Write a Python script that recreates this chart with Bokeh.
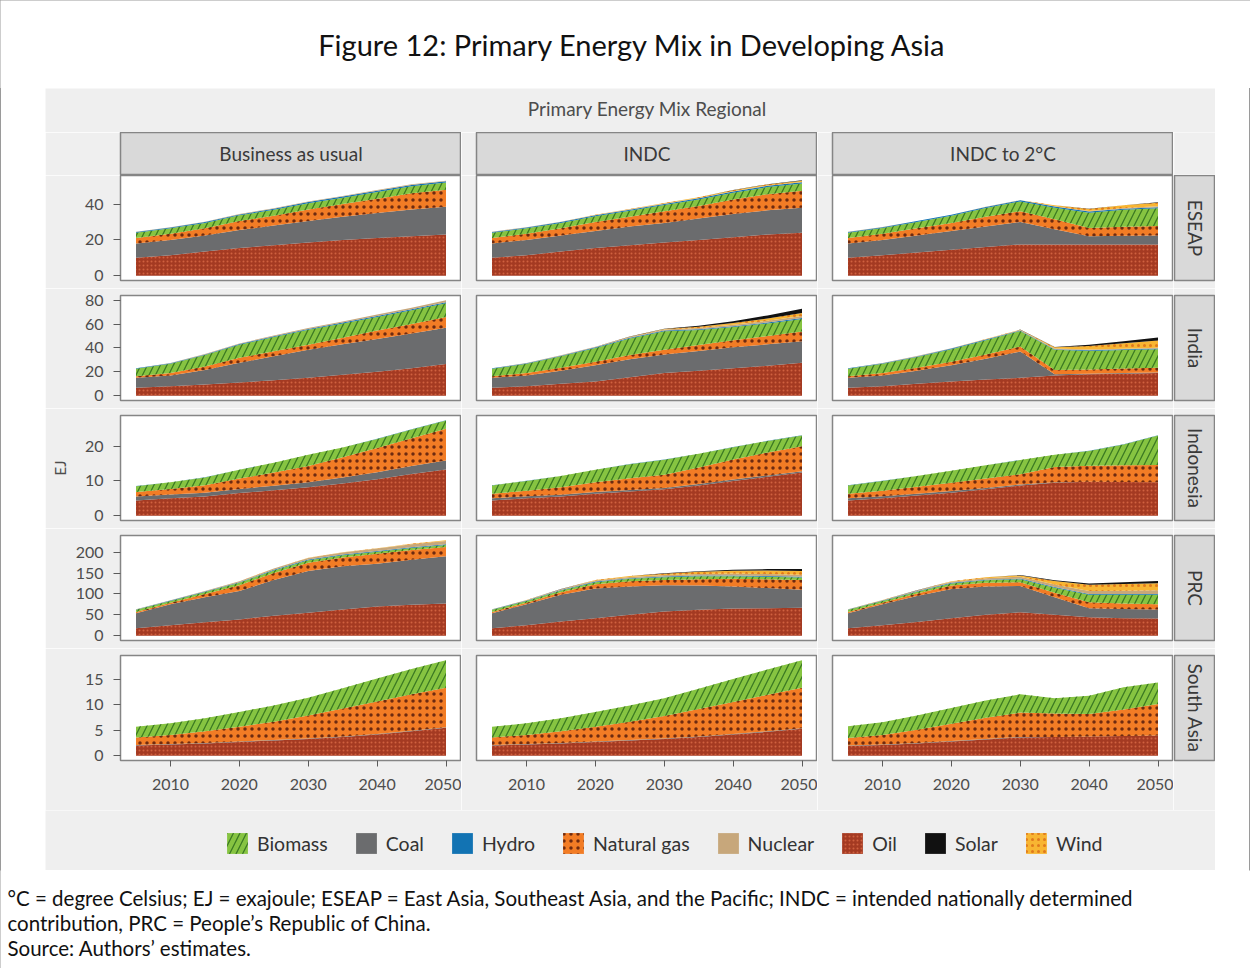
import math
import numpy as np
from bokeh.plotting import figure
from bokeh.models import Range1d, FixedTicker, Label, Legend, LegendItem, Spacer
from bokeh.layouts import row, column
from bokeh.embed import file_html
from bokeh.resources import INLINE

# ---------------- data ----------------
years = [2005, 2010, 2015, 2020, 2025, 2030, 2035, 2040, 2045, 2050]
energies = ["Biomass", "Coal", "Hydro", "Natural gas", "Nuclear", "Oil", "Solar", "Wind"]
stack_order = ["Oil", "Coal", "Natural gas", "Biomass", "Hydro", "Nuclear", "Wind", "Solar"]
scenarios = ["Business as usual", "INDC", "INDC to 2°C"]
regions = ["ESEAP", "India", "Indonesia", "PRC", "South Asia"]

x_ticks = [2010, 2020, 2030, 2040, 2050]
y_ticks = {
    "ESEAP": [0, 20, 40],
    "India": [0, 20, 40, 60, 80],
    "Indonesia": [0, 10, 20],
    "PRC": [0, 50, 100, 150, 200],
    "South Asia": [0, 5, 10, 15],
}

eseap_bau = {
    "Oil":         [10.0, 11.5, 13.5, 15.5, 17.0, 18.5, 20.0, 21.0, 22.0, 23.0],
    "Coal":        [8.0, 8.5, 9.0, 10.0, 11.0, 12.0, 13.0, 14.0, 15.0, 15.5],
    "Natural gas": [3.0, 3.5, 4.0, 5.0, 5.5, 6.5, 7.0, 8.0, 9.0, 9.5],
    "Biomass":     [3.0, 3.0, 3.0, 3.2, 3.3, 3.5, 3.6, 3.8, 4.0, 4.0],
    "Hydro":       [0.4, 0.4, 0.5, 0.5, 0.6, 0.6, 0.6, 0.7, 0.7, 0.7],
    "Nuclear":     [0.2, 0.2, 0.2, 0.3, 0.3, 0.3, 0.3, 0.4, 0.4, 0.4],
    "Wind":        [0.0, 0.0, 0.0, 0.0, 0.0, 0.0, 0.0, 0.0, 0.0, 0.0],
    "Solar":       [0.0, 0.0, 0.0, 0.0, 0.0, 0.0, 0.0, 0.0, 0.0, 0.0],
}
eseap_indc = {
    "Oil":         [10.0, 11.5, 13.5, 15.5, 17.0, 18.5, 20.0, 21.5, 23.0, 24.0],
    "Coal":        [8.0, 8.5, 9.0, 9.5, 10.5, 11.0, 12.0, 13.0, 13.5, 14.0],
    "Natural gas": [3.0, 3.5, 4.0, 5.0, 5.5, 6.5, 7.0, 8.0, 9.0, 9.5],
    "Biomass":     [3.0, 3.0, 3.0, 3.2, 3.3, 3.5, 3.6, 3.8, 4.0, 4.0],
    "Hydro":       [0.4, 0.4, 0.5, 0.5, 0.6, 0.6, 0.6, 0.7, 0.7, 0.7],
    "Nuclear":     [0.2, 0.2, 0.2, 0.2, 0.2, 0.2, 0.2, 0.2, 0.2, 0.2],
    "Wind":        [0.0, 0.0, 0.0, 0.1, 0.2, 0.3, 0.4, 0.5, 0.6, 0.7],
    "Solar":       [0.0, 0.0, 0.0, 0.0, 0.0, 0.0, 0.0, 0.1, 0.1, 0.2],
}
eseap_2c = {
    "Oil":         [10.0, 11.5, 13.0, 14.5, 16.0, 17.5, 17.5, 17.5, 17.5, 17.5],
    "Coal":        [8.0, 8.5, 9.5, 10.5, 11.5, 12.5, 8.5, 4.6, 4.8, 5.0],
    "Natural gas": [3.0, 3.5, 4.0, 4.5, 5.5, 6.0, 5.5, 4.6, 5.0, 5.2],
    "Biomass":     [3.0, 3.2, 3.5, 4.0, 4.8, 5.5, 6.5, 8.5, 9.5, 10.0],
    "Hydro":       [0.4, 0.4, 0.5, 0.5, 0.6, 0.6, 0.6, 0.6, 0.6, 0.6],
    "Nuclear":     [0.1, 0.1, 0.1, 0.1, 0.1, 0.1, 0.2, 0.3, 0.4, 0.5],
    "Wind":        [0.0, 0.0, 0.0, 0.0, 0.0, 0.0, 0.5, 1.2, 1.5, 2.0],
    "Solar":       [0.0, 0.0, 0.0, 0.0, 0.0, 0.0, 0.0, 0.1, 0.1, 0.2],
}

india_bau = {
    "Oil":         [6.7, 8.0, 9.5, 11.0, 13.0, 15.0, 17.5, 20.0, 23.0, 26.5],
    "Coal":        [8.3, 9.0, 12.0, 16.5, 20.0, 23.5, 25.5, 27.5, 29.0, 30.5],
    "Natural gas": [1.4, 2.0, 3.0, 4.2, 4.2, 4.2, 5.5, 7.0, 8.0, 9.0],
    "Biomass":     [6.1, 7.7, 9.5, 11.0, 12.0, 12.5, 12.0, 11.5, 11.5, 11.5],
    "Hydro":       [0.4, 0.4, 0.5, 0.5, 0.6, 0.6, 0.7, 0.7, 0.8, 0.8],
    "Nuclear":     [0.2, 0.3, 0.4, 0.5, 0.6, 0.8, 1.0, 1.2, 1.4, 1.6],
    "Wind":        [0.0, 0.0, 0.0, 0.0, 0.0, 0.0, 0.0, 0.0, 0.0, 0.0],
    "Solar":       [0.0, 0.0, 0.0, 0.0, 0.0, 0.0, 0.0, 0.0, 0.0, 0.0],
}
india_indc = {
    "Oil":         [6.7, 8.0, 10.0, 12.0, 15.5, 19.0, 21.0, 23.0, 25.0, 27.5],
    "Coal":        [8.3, 9.0, 11.0, 13.5, 15.0, 15.5, 16.5, 17.5, 18.0, 18.0],
    "Natural gas": [1.4, 2.0, 2.5, 3.0, 3.5, 4.0, 5.0, 6.0, 7.0, 8.3],
    "Biomass":     [6.1, 7.7, 9.5, 11.5, 14.0, 15.5, 12.5, 11.0, 10.5, 10.5],
    "Hydro":       [0.4, 0.4, 0.5, 0.5, 0.6, 0.6, 0.7, 0.7, 0.8, 0.8],
    "Nuclear":     [0.2, 0.3, 0.4, 0.5, 0.6, 0.8, 1.0, 1.2, 1.4, 1.6],
    "Wind":        [0.0, 0.0, 0.0, 0.1, 0.2, 0.4, 1.0, 1.5, 2.0, 2.5],
    "Solar":       [0.0, 0.0, 0.0, 0.0, 0.1, 0.2, 0.8, 1.5, 2.5, 3.5],
}
india_2c = {
    "Oil":         [6.7, 8.0, 10.0, 12.0, 13.5, 15.0, 17.0, 18.0, 18.5, 19.0],
    "Coal":        [8.3, 9.0, 11.0, 13.5, 17.5, 22.0, 1.0, 0.5, 0.5, 0.5],
    "Natural gas": [1.4, 2.0, 2.5, 3.0, 3.5, 4.2, 3.5, 3.5, 3.8, 4.0],
    "Biomass":     [6.1, 7.7, 9.0, 10.5, 12.0, 13.0, 17.0, 15.5, 15.5, 15.5],
    "Hydro":       [0.4, 0.4, 0.4, 0.5, 0.5, 0.5, 0.5, 0.5, 0.5, 0.5],
    "Nuclear":     [0.2, 0.2, 0.3, 0.3, 0.3, 0.4, 0.5, 0.6, 0.6, 0.7],
    "Wind":        [0.0, 0.0, 0.0, 0.0, 0.1, 0.2, 1.0, 3.0, 4.5, 6.0],
    "Solar":       [0.0, 0.0, 0.0, 0.0, 0.0, 0.1, 0.3, 1.0, 1.8, 2.5],
}

indonesia_bau = {
    "Oil":         [4.4, 5.0, 5.5, 6.5, 7.3, 8.2, 9.3, 10.5, 12.0, 13.3],
    "Coal":        [1.1, 1.1, 1.1, 1.2, 1.3, 1.4, 1.7, 2.0, 2.3, 2.6],
    "Natural gas": [1.3, 1.6, 2.2, 3.0, 3.8, 4.7, 5.8, 7.0, 8.0, 9.1],
    "Biomass":     [1.7, 1.9, 2.2, 2.5, 2.8, 3.2, 2.8, 2.6, 2.5, 2.4],
    "Hydro":       [0.05, 0.05, 0.05, 0.05, 0.05, 0.05, 0.05, 0.05, 0.05, 0.05],
    "Nuclear":     [0.0, 0.0, 0.0, 0.0, 0.0, 0.0, 0.0, 0.0, 0.0, 0.0],
    "Wind":        [0.0, 0.0, 0.0, 0.0, 0.0, 0.0, 0.0, 0.0, 0.0, 0.0],
    "Solar":       [0.0, 0.0, 0.0, 0.0, 0.0, 0.0, 0.0, 0.0, 0.0, 0.0],
}
indonesia_indc = {
    "Oil":         [4.4, 5.0, 5.5, 6.3, 7.0, 7.6, 8.7, 10.0, 11.2, 12.4],
    "Coal":        [0.6, 0.6, 0.5, 0.5, 0.4, 0.4, 0.4, 0.4, 0.4, 0.4],
    "Natural gas": [1.3, 1.6, 2.2, 2.8, 3.4, 3.8, 4.8, 5.8, 6.6, 7.2],
    "Biomass":     [2.4, 2.8, 3.2, 3.6, 4.0, 4.3, 3.9, 3.5, 3.3, 3.1],
    "Hydro":       [0.05, 0.05, 0.05, 0.05, 0.05, 0.05, 0.05, 0.05, 0.05, 0.05],
    "Nuclear":     [0.0, 0.0, 0.0, 0.0, 0.0, 0.0, 0.0, 0.0, 0.0, 0.0],
    "Wind":        [0.0, 0.0, 0.0, 0.0, 0.0, 0.0, 0.0, 0.0, 0.0, 0.0],
    "Solar":       [0.0, 0.0, 0.0, 0.0, 0.0, 0.0, 0.0, 0.0, 0.0, 0.0],
}
indonesia_2c = {
    "Oil":         [4.4, 5.0, 5.8, 6.6, 7.6, 8.7, 9.5, 9.8, 9.7, 9.6],
    "Coal":        [0.6, 0.6, 0.5, 0.5, 0.4, 0.3, 0.1, 0.0, 0.0, 0.0],
    "Natural gas": [1.3, 1.6, 2.0, 2.4, 2.7, 2.9, 4.4, 4.6, 4.8, 5.0],
    "Biomass":     [2.4, 2.8, 3.1, 3.4, 3.8, 4.1, 3.5, 4.2, 6.0, 8.5],
    "Hydro":       [0.05, 0.05, 0.05, 0.05, 0.05, 0.05, 0.05, 0.05, 0.05, 0.05],
    "Nuclear":     [0.0, 0.0, 0.0, 0.0, 0.0, 0.0, 0.0, 0.0, 0.0, 0.0],
    "Wind":        [0.0, 0.0, 0.0, 0.0, 0.0, 0.0, 0.0, 0.0, 0.0, 0.0],
    "Solar":       [0.0, 0.0, 0.0, 0.0, 0.0, 0.0, 0.0, 0.0, 0.0, 0.0],
}

prc_bau = {
    "Oil":         [18.0, 25.0, 32.0, 39.0, 48.0, 55.0, 63.0, 70.0, 74.0, 77.0],
    "Coal":        [36.0, 50.0, 60.0, 68.0, 85.0, 100.0, 103.0, 102.0, 108.0, 113.0],
    "Natural gas": [3.0, 4.0, 8.0, 14.0, 17.0, 19.5, 21.0, 24.0, 23.0, 22.0],
    "Biomass":     [5.0, 4.0, 4.5, 5.5, 6.0, 6.0, 5.5, 5.0, 5.0, 5.0],
    "Hydro":       [1.0, 1.2, 1.4, 1.5, 1.6, 1.7, 1.8, 1.8, 1.8, 1.8],
    "Nuclear":     [0.5, 0.8, 1.2, 2.0, 3.0, 4.0, 5.0, 6.0, 7.0, 8.0],
    "Wind":        [0.0, 0.0, 0.1, 0.2, 0.3, 0.4, 0.5, 0.7, 1.0, 1.5],
    "Solar":       [0.0, 0.0, 0.0, 0.0, 0.0, 0.0, 0.0, 0.0, 0.0, 0.0],
}
prc_indc = {
    "Oil":         [18.0, 25.0, 34.0, 42.0, 50.0, 58.0, 62.0, 65.0, 66.0, 67.0],
    "Coal":        [36.0, 50.0, 64.0, 71.0, 68.0, 63.0, 58.0, 53.0, 48.0, 43.0],
    "Natural gas": [3.0, 4.0, 6.0, 10.0, 12.0, 12.0, 15.0, 18.0, 21.0, 23.0],
    "Biomass":     [5.0, 4.0, 4.0, 5.0, 6.0, 7.0, 7.0, 6.5, 6.0, 6.0],
    "Hydro":       [1.0, 1.2, 1.4, 1.5, 1.6, 1.7, 1.8, 1.8, 1.8, 1.8],
    "Nuclear":     [0.5, 0.8, 1.5, 2.5, 3.0, 3.5, 4.0, 4.5, 5.0, 5.0],
    "Wind":        [0.0, 0.2, 0.5, 1.0, 2.0, 3.0, 5.0, 6.5, 8.0, 9.0],
    "Solar":       [0.0, 0.0, 0.1, 0.3, 0.5, 1.0, 1.5, 2.5, 3.5, 4.5],
}
prc_2c = {
    "Oil":         [18.0, 25.0, 33.0, 42.0, 50.0, 56.0, 50.0, 44.0, 42.0, 41.0],
    "Coal":        [36.0, 50.0, 62.0, 70.0, 68.0, 63.0, 42.0, 22.0, 22.0, 22.0],
    "Natural gas": [3.0, 4.0, 6.0, 8.0, 8.5, 9.0, 11.0, 14.0, 13.0, 12.0],
    "Biomass":     [5.0, 4.0, 4.0, 5.0, 6.0, 7.0, 12.0, 18.0, 21.0, 23.0],
    "Hydro":       [1.0, 1.2, 1.4, 1.5, 1.6, 1.7, 1.8, 1.8, 1.8, 1.8],
    "Nuclear":     [0.5, 0.8, 1.5, 2.5, 3.5, 4.5, 6.0, 7.0, 8.0, 9.0],
    "Wind":        [0.0, 0.2, 0.5, 1.0, 2.0, 3.0, 8.0, 15.0, 16.0, 17.0],
    "Solar":       [0.0, 0.0, 0.1, 0.3, 0.5, 1.0, 2.0, 3.0, 4.0, 5.0],
}

south_asia_bau = {
    "Oil":         [2.0, 2.2, 2.4, 2.7, 3.0, 3.3, 3.7, 4.2, 4.8, 5.5],
    "Coal":        [0.1, 0.1, 0.1, 0.1, 0.1, 0.1, 0.1, 0.1, 0.1, 0.1],
    "Natural gas": [1.5, 1.8, 2.3, 2.9, 3.6, 4.5, 5.5, 6.4, 7.2, 7.8],
    "Biomass":     [2.1, 2.3, 2.6, 2.9, 3.2, 3.5, 4.0, 4.5, 5.0, 5.4],
    "Hydro":       [0.0, 0.0, 0.0, 0.0, 0.0, 0.0, 0.0, 0.0, 0.0, 0.0],
    "Nuclear":     [0.0, 0.0, 0.0, 0.0, 0.0, 0.0, 0.0, 0.0, 0.0, 0.0],
    "Wind":        [0.0, 0.0, 0.0, 0.0, 0.0, 0.0, 0.0, 0.0, 0.0, 0.0],
    "Solar":       [0.0, 0.0, 0.0, 0.0, 0.0, 0.0, 0.0, 0.0, 0.0, 0.0],
}
south_asia_indc = {
    "Oil":         [2.0, 2.2, 2.4, 2.7, 3.0, 3.3, 3.7, 4.2, 4.7, 5.3],
    "Coal":        [0.1, 0.1, 0.1, 0.1, 0.1, 0.1, 0.1, 0.1, 0.1, 0.1],
    "Natural gas": [1.5, 1.8, 2.3, 2.9, 3.6, 4.4, 5.4, 6.3, 7.2, 8.0],
    "Biomass":     [2.1, 2.3, 2.6, 2.9, 3.2, 3.5, 4.0, 4.5, 5.0, 5.4],
    "Hydro":       [0.0, 0.0, 0.0, 0.0, 0.0, 0.0, 0.0, 0.0, 0.0, 0.0],
    "Nuclear":     [0.0, 0.0, 0.0, 0.0, 0.0, 0.0, 0.0, 0.0, 0.0, 0.0],
    "Wind":        [0.0, 0.0, 0.0, 0.0, 0.0, 0.0, 0.0, 0.0, 0.0, 0.0],
    "Solar":       [0.0, 0.0, 0.0, 0.0, 0.0, 0.0, 0.0, 0.0, 0.0, 0.0],
}
south_asia_2c = {
    "Oil":         [1.9, 2.1, 2.4, 2.8, 3.2, 3.6, 3.7, 3.8, 3.9, 4.0],
    "Coal":        [0.1, 0.1, 0.1, 0.1, 0.1, 0.1, 0.0, 0.0, 0.0, 0.0],
    "Natural gas": [1.5, 1.9, 2.6, 3.4, 4.2, 4.8, 4.6, 4.4, 5.2, 6.2],
    "Biomass":     [2.3, 2.5, 2.8, 3.1, 3.4, 3.6, 3.0, 3.6, 4.4, 4.2],
    "Hydro":       [0.0, 0.0, 0.0, 0.0, 0.0, 0.0, 0.0, 0.0, 0.0, 0.0],
    "Nuclear":     [0.0, 0.0, 0.0, 0.0, 0.0, 0.0, 0.0, 0.0, 0.0, 0.0],
    "Wind":        [0.0, 0.0, 0.0, 0.0, 0.0, 0.0, 0.0, 0.0, 0.0, 0.0],
    "Solar":       [0.0, 0.0, 0.0, 0.0, 0.0, 0.0, 0.0, 0.0, 0.0, 0.0],
}

panel_data = {
    "ESEAP": [eseap_bau, eseap_indc, eseap_2c],
    "India": [india_bau, india_indc, india_2c],
    "Indonesia": [indonesia_bau, indonesia_indc, indonesia_2c],
    "PRC": [prc_bau, prc_indc, prc_2c],
    "South Asia": [south_asia_bau, south_asia_indc, south_asia_2c],
}

title_text = "Figure 12: Primary Energy Mix in Developing Asia"
subtitle_text = "Primary Energy Mix Regional"
y_label = "EJ"
footnotes = [
    "°C = degree Celsius; EJ = exajoule; ESEAP = East Asia, Southeast Asia, and the Pacific; INDC = intended nationally determined",
    "contribution, PRC = People’s Republic of China.",
    "Source: Authors’ estimates.",
]

# ---------------- styles ----------------
STYLE = {
    "Biomass":     dict(fill_color="#86c441", hatch_pattern="/", hatch_color="#3b7a22", hatch_scale=13, hatch_weight=1.3),
    "Coal":        dict(fill_color="#6b6c6e"),
    "Hydro":       dict(fill_color="#1273b3"),
    "Natural gas": dict(fill_color="#f27c25", hatch_pattern=".", hatch_color="#6e2a10", hatch_scale=7, hatch_weight=2),
    "Nuclear":     dict(fill_color="#c7a77b"),
    "Oil":         dict(fill_color="#a43a22", hatch_pattern=".", hatch_color="#d0613f", hatch_scale=4, hatch_weight=1.2),
    "Solar":       dict(fill_color="#111111"),
    "Wind":        dict(fill_color="#f8b532", hatch_pattern=".", hatch_color="#e07a1c", hatch_scale=6, hatch_weight=1.6),
}

GRAY = "#efefef"
STRIP = "#d9d9d9"
BORDER = "#858585"
FONT = "Lato"
XR = (2002.75, 2052.25)
FW, FH = 341, 105
SP = 45

def base_fig(**kw):
    opts = dict(output_backend="svg", toolbar_location=None,
                min_border_left=0, min_border_right=0, min_border_top=0, min_border_bottom=0,
                x_axis_location=None, y_axis_location=None,
                border_fill_color=GRAY, background_fill_color=GRAY, outline_line_color=None)
    opts.update(kw)
    p = figure(**opts)
    p.grid.visible = False
    return p

def style_axis(ax, tick_out, standoff):
    ax.axis_line_color = None
    ax.major_tick_line_color = "#5a5a5a"
    ax.major_tick_out = tick_out
    ax.major_tick_in = 0
    ax.minor_tick_line_color = None
    ax.major_label_text_font = FONT
    ax.major_label_text_font_size = "16px"
    ax.major_label_text_color = "#4d4d4d"
    ax.major_label_standoff = standoff

# ---------------- title ----------------
title_fig = base_fig(width=1250, height=88, x_range=Range1d(0, 1), y_range=Range1d(0, 1),
                     border_fill_color="white", background_fill_color="white")
title_fig.add_layout(Label(x=632, y=44, x_units="screen", y_units="screen", text=title_text,
                           text_align="center", text_baseline="middle", text_font=FONT,
                           text_font_size="29px", text_color="#111111"))

# ---------------- subtitle ----------------
sub_fig = base_fig(frame_width=1170, frame_height=44, x_range=Range1d(0, 1), y_range=Range1d(0, 1))
sub_fig.add_layout(Label(x=602, y=24, x_units="screen", y_units="screen", text=subtitle_text,
                         text_align="center", text_baseline="middle", text_font=FONT,
                         text_font_size="19px", text_color="#4d4d4d"))

# ---------------- top strips ----------------
top_items = [Spacer(width=SP, height=43)]
for c, scen in enumerate(scenarios):
    s = base_fig(frame_width=FW, frame_height=42, min_border_left=75 if c == 0 else 15,
                 min_border_bottom=1, x_range=Range1d(0, 1), y_range=Range1d(0, 1),
                 background_fill_color=STRIP, outline_line_color=BORDER, outline_line_width=1.5)
    s.add_layout(Label(x=0.5, y=0.5, text=scen, text_align="center", text_baseline="middle",
                       text_font=FONT, text_font_size="19px", text_color="#3a3a3a"))
    top_items.append(s)
corner = base_fig(frame_width=41, frame_height=42, min_border_left=1, min_border_bottom=1,
                  x_range=Range1d(0, 1), y_range=Range1d(0, 1))
top_items.append(corner)
top_row = row(top_items)

# ---------------- panels ----------------
panel_rows = []
nreg = len(regions)
for r, reg in enumerate(regions):
    last = r == nreg - 1
    btop = 0 if r == 0 else 7
    bbot = 50 if last else 8
    datasets = panel_data[reg]
    ymax = max(max(sum(d[k][i] for k in stack_order) for i in range(len(years))) for d in datasets)
    items = [Spacer(width=SP, height=FH + btop + bbot)]
    for c, d in enumerate(datasets):
        p = base_fig(frame_width=FW, frame_height=FH, min_border_left=75 if c == 0 else 15,
                     min_border_top=btop, min_border_bottom=bbot,
                     x_range=Range1d(*XR), y_range=Range1d(-0.05 * ymax, 1.05 * ymax),
                     x_axis_location="below" if last else None,
                     y_axis_location="left" if c == 0 else None,
                     background_fill_color="white", outline_line_color=BORDER, outline_line_width=1.5)
        base = np.zeros(len(years))
        for k in stack_order:
            top = base + np.array(d[k], dtype=float)
            p.varea(x=years, y1=base.copy(), y2=top.copy(), **STYLE[k])
            base = top
        if c == 0:
            style_axis(p.yaxis[0], 7, 10)
            p.yaxis[0].ticker = FixedTicker(ticks=y_ticks[reg])
            if reg == "Indonesia":
                p.yaxis[0].axis_label = y_label
                p.yaxis[0].axis_label_text_font = FONT
                p.yaxis[0].axis_label_text_font_size = "15px"
                p.yaxis[0].axis_label_text_font_style = "normal"
                p.yaxis[0].axis_label_text_color = "#4d4d4d"
                p.yaxis[0].axis_label_standoff = 13
        if last:
            style_axis(p.xaxis[0], 6, 12)
            p.xaxis[0].ticker = FixedTicker(ticks=x_ticks)
        items.append(p)
    strip = base_fig(frame_width=41, frame_height=FH, min_border_left=1,
                     min_border_top=btop, min_border_bottom=bbot,
                     x_range=Range1d(0, 1), y_range=Range1d(0, 1),
                     background_fill_color=STRIP, outline_line_color=BORDER, outline_line_width=1.5)
    strip.add_layout(Label(x=0.5, y=0.5, text=reg, angle=-math.pi / 2, text_align="center",
                           text_baseline="middle", text_font=FONT, text_font_size="19px",
                           text_color="#3a3a3a"))
    items.append(strip)
    panel_rows.append(row(items))

# ---------------- legend ----------------
leg_fig = base_fig(frame_width=1170, frame_height=60, x_range=Range1d(0, 1), y_range=Range1d(0, 1))
leg_items = []
for k in energies:
    # keys only: the area sits outside the visible range
    rr = leg_fig.varea(x=[5, 6], y1=[5, 5], y2=[6, 6], **STYLE[k])
    leg_items.append(LegendItem(label=k, renderers=[rr]))
legend = Legend(items=leg_items, orientation="horizontal", location=(179, 14),
                glyph_width=26, glyph_height=26, label_standoff=7, spacing=25,
                padding=0, margin=0, border_line_color=None, background_fill_alpha=0,
                label_text_font=FONT, label_text_font_size="19.5px", label_text_color="#333333",
                label_height=26)
leg_fig.add_layout(legend)

# ---------------- footnotes ----------------
foot_fig = base_fig(width=1250, height=98, x_range=Range1d(0, 1), y_range=Range1d(0, 1),
                    border_fill_color="white", background_fill_color="white")
for i, line in enumerate(footnotes):
    foot_fig.add_layout(Label(x=7, y=71 - 25 * i, x_units="screen", y_units="screen", text=line,
                              text_align="left", text_baseline="middle", text_font=FONT,
                              text_font_size="20.5px", text_color="#111111"))

layout = column([
    title_fig,
    row([Spacer(width=SP, height=44), sub_fig]),
    top_row,
    *panel_rows,
    row([Spacer(width=SP, height=60), leg_fig]),
    foot_fig,
], styles={"outline": "1px solid #9a9a9a", "outline-offset": "-1px"})

open("out.html", "w").write(file_html(layout, INLINE))
